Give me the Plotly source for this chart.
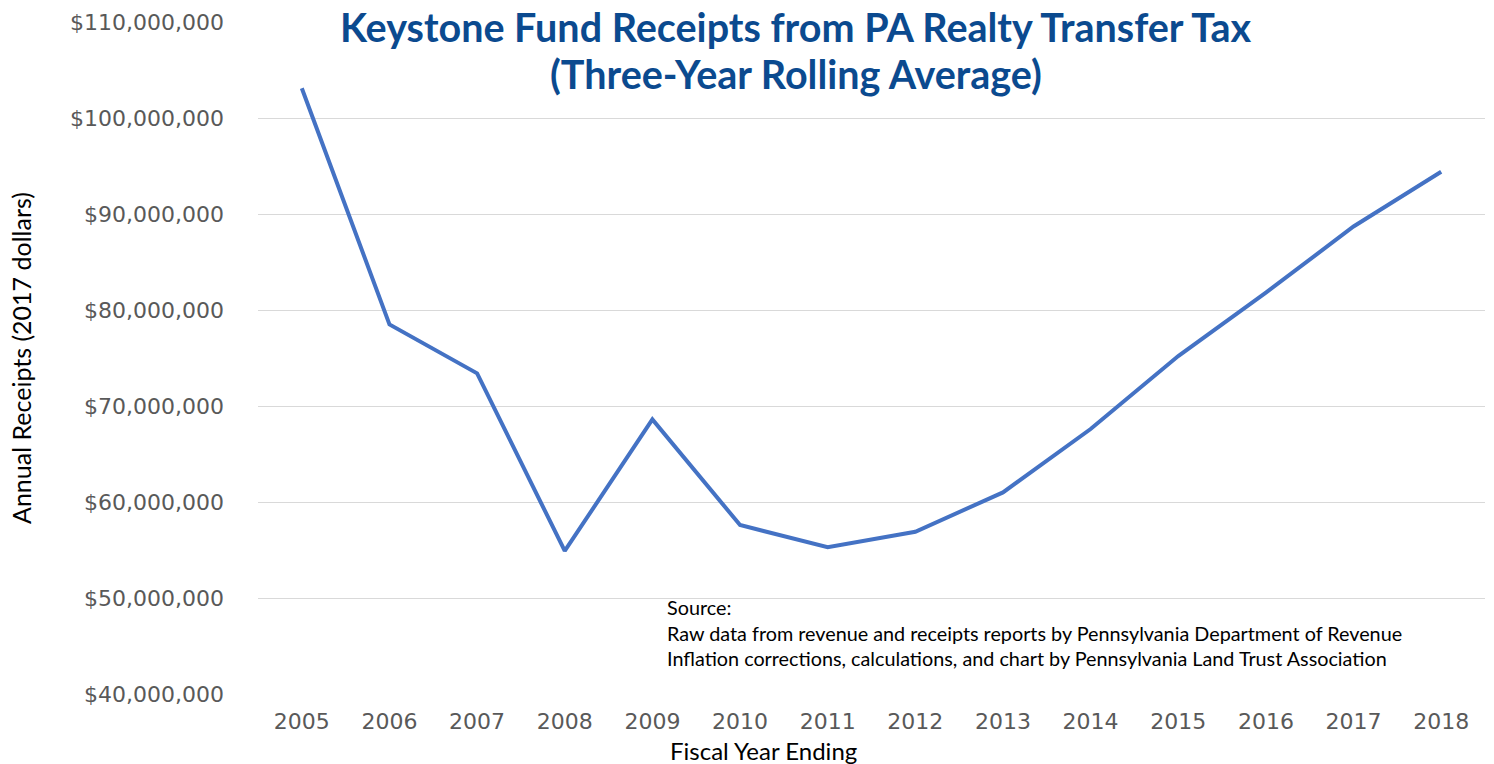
import plotly.graph_objects as go

years = ["2005", "2006", "2007", "2008", "2009", "2010", "2011", "2012", "2013",
         "2014", "2015", "2016", "2017", "2018"]
receipts = [103.1e6, 78.5e6, 73.4e6, 54.9e6, 68.6e6, 57.6e6, 55.3e6, 56.9e6, 61.0e6,
            67.6e6, 75.2e6, 81.8e6, 88.7e6, 94.4e6]

title_line1 = "Keystone Fund Receipts from PA Realty Transfer Tax"
title_line2 = "(Three-Year Rolling Average)"
x_title = "Fiscal Year Ending"
y_title = "Annual Receipts (2017 dollars)"
source_lines = [
    "Source:",
    "Raw data from revenue and receipts reports by Pennsylvania Department of Revenue",
    "Inflation corrections, calculations, and chart by Pennsylvania Land Trust Association",
]

fig = go.Figure()
fig.add_trace(go.Scatter(
    x=years, y=receipts, mode="lines",
    line=dict(color="#4472C4", width=4),
    hoverinfo="x+y",
))

# body margin is removed in the page (post_script), so layout is in screen pixels
W, H = 1494, 764
ml, mt = 258, 22
plot_right, plot_bottom = 1485, 694
mr, mb = W - plot_right, H - plot_bottom
pw = W - ml - mr
ph = H - mt - mb

def px_x(x):
    return (x - ml) / pw

def px_y(y):
    return 1 - (y - mt) / ph

title_font = dict(family="Lato", size=39.5, color="#0B4A8F", weight="bold")
annotations = [
    dict(text=title_line1, xref="paper", yref="paper", x=px_x(796), y=px_y(27),
         xanchor="center", yanchor="middle", showarrow=False, bgcolor="white",
         borderpad=0, font=title_font),
    dict(text=title_line2, xref="paper", yref="paper", x=px_x(796), y=px_y(74),
         xanchor="center", yanchor="middle", showarrow=False, bgcolor="white",
         borderpad=0, font=title_font),
    dict(text=x_title, xref="paper", yref="paper", x=px_x(763), y=px_y(750),
         xanchor="center", yanchor="middle", showarrow=False,
         font=dict(family="Lato", size=24, color="#000000")),
    dict(text=y_title, xref="paper", yref="paper", x=px_x(21), y=px_y(358),
         xanchor="center", yanchor="middle", showarrow=False, textangle=-90,
         font=dict(family="Lato", size=25, color="#000000")),
]
for i, s in enumerate(source_lines):
    annotations.append(dict(
        text=s, xref="paper", yref="paper", x=px_x(665), y=px_y(607 + 25.5 * i),
        xanchor="left", yanchor="middle", showarrow=False,
        font=dict(family="Lato", size=19.8, color="#000000")))

fig.update_layout(
    width=W, height=H,
    margin=dict(l=ml, r=mr, t=mt, b=mb),
    paper_bgcolor="white", plot_bgcolor="white",
    showlegend=False,
    annotations=annotations,
    xaxis=dict(
        type="category", range=[-0.5, len(years) - 0.5],
        showgrid=False, zeroline=False, showline=False,
        ticks="", ticklabelstandoff=12,
        tickfont=dict(family="DejaVu Sans", size=22, color="#595959"),
        automargin=False,
    ),
    yaxis=dict(
        range=[40e6, 110e6], dtick=10e6, tick0=40e6, tickformat="$,.0f",
        showgrid=True, gridcolor="#D9D9D9", gridwidth=1, zeroline=False,
        showline=False, ticks="", ticklabelstandoff=33,
        tickfont=dict(family="DejaVu Sans", size=22, color="#595959"),
        automargin=False,
    ),
)

fig.write_html("out.html",
               config={"displayModeBar": False},
               post_script="document.body.style.margin='0px';document.body.style.overflow='hidden';")
